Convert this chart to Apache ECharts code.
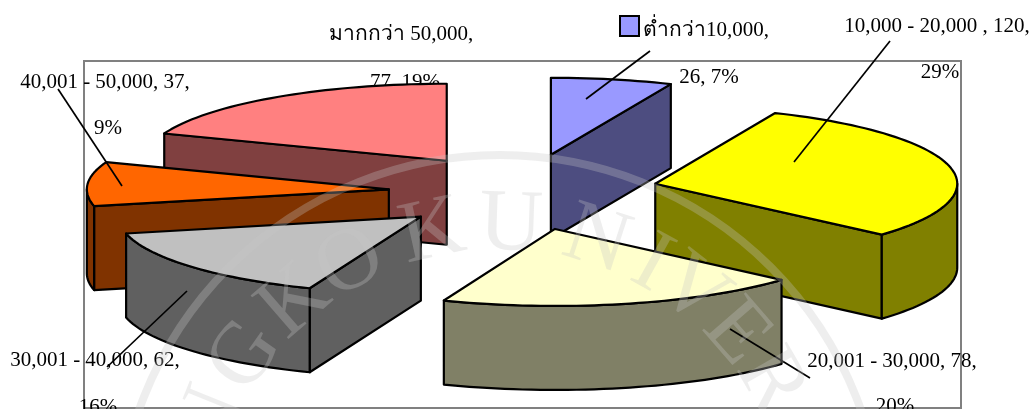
<!DOCTYPE html>
<html><head><meta charset="utf-8">
<style>html,body{margin:0;padding:0;background:#fff}#c{width:1034px;height:409px}</style>
<script src="https://cdn.jsdelivr.net/npm/echarts@6/dist/echarts.min.js"></script>
</head><body><div id="c"></div>
<script>
// data (clockwise from 12 o'clock)
const categories = ['ต่ำกว่า10,000', '10,000 - 20,000', '20,001 - 30,000', '30,001 - 40,000', '40,001 - 50,000', 'มากกว่า 50,000'];
const values = [26, 120, 78, 62, 37, 77];
const topColors = ['#9999FF', '#FFFF00', '#FFFFCC', '#C0C0C0', '#FF6600', '#FF8080'];
const wallColors = ['#4D4D80', '#808000', '#808066', '#606060', '#803300', '#804040'];
const drawOrder = [5, 0, 4, 1, 3, 2];
// label text
const labelLines = [
  ['ต่ำกว่า10,000,', '26, 7%'],
  ['10,000 - 20,000 , 120,', '29%'],
  ['20,001 - 30,000, 78,', '20%'],
  ['30,001 - 40,000, 62,', '16%'],
  ['40,001 - 50,000, 37,', '9%'],
  ['มากกว่า 50,000,', '77, 19%']
];
const watermarkLetters = ['N', 'G', 'K', 'O', 'K', 'U', 'N', 'I', 'V', 'E', 'R'];

// layout
const PIE = { cx: 523.5, cy: 192, rx: 302, ry: 77, depth: 84, ex: 135, ey: 38 };
const labelPos = [
  [[706, 30], [709, 77]],
  [[937, 26], [940, 72]],
  [[892, 361], [895, 406]],
  [[95, 360], [98, 407]],
  [[105, 82], [108, 128]],
  [[401, 34], [405, 82]]
];
const leaders = [
  [650, 51, 586, 99],
  [890, 41, 794, 162],
  [810, 378, 730, 329],
  [107, 367, 187, 291],
  [58, 89, 122, 186]
];
const WM = { cx: 500, cy: 538, ring: 383, r: 312 };
const wmAngles = [-68, -54.5, -41, -28.6, -12.5, 2, 18, 29, 38, 49, 60];

const total = values.reduce((a, b) => a + b, 0);
const starts = [];
values.reduce((acc, v, i) => { starts[i] = acc; return acc + v; }, 0);
const rad = v => v / total * Math.PI * 2;

function renderSlice(params, api) {
  const i = api.value(0), v = api.value(1);
  const a0 = rad(starts[i]), a1 = rad(starts[i] + v), mid = (a0 + a1) / 2;
  const ax = PIE.cx + PIE.ex * Math.sin(mid), ay = PIE.cy - PIE.ey * Math.cos(mid);
  const pt = (a, dz) => [ax + PIE.rx * Math.sin(a), ay - PIE.ry * Math.cos(a) + (dz || 0)];
  const arc = (s, e, dz) => {
    const n = Math.max(2, Math.ceil((e - s) / 0.03)), out = [];
    for (let k = 0; k <= n; k++) out.push(pt(s + (e - s) * k / n, dz));
    return out;
  };
  const base = { stroke: '#000', lineWidth: 2.2, lineJoin: 'round' };
  const kids = [];
  const poly = (points, fill) => kids.push({ type: 'polygon', shape: { points }, style: Object.assign({ fill }, base), silent: true });
  const wall = a => poly([[ax, ay], pt(a), pt(a, PIE.depth), [ax, ay + PIE.depth]], wallColors[i]);
  if (Math.sin(a0) < -1e-6) wall(a0);
  if (Math.sin(a1) > 1e-6) wall(a1);
  const rs = Math.max(a0, Math.PI / 2), re = Math.min(a1, Math.PI * 1.5);
  if (re > rs) poly(arc(rs, re).concat(arc(rs, re, PIE.depth).reverse()), wallColors[i]);
  poly([[ax, ay]].concat(arc(a0, a1)), topColors[i]);
  return { type: 'group', children: kids };
}

const graphic = [];
graphic.push({ type: 'rect', z: 0, silent: true, shape: { x: 84, y: 61, width: 877, height: 347 }, style: { fill: 'none', stroke: '#808080', lineWidth: 2 } });
labelLines.forEach((lines, i) => lines.forEach((t, j) => {
  graphic.push({ type: 'text', z: i === 5 && j === 1 ? 1 : 5, silent: true, x: labelPos[i][j][0], y: labelPos[i][j][1],
    style: { text: t, fill: '#000', align: 'center', verticalAlign: 'middle', font: '21px "Liberation Serif", "Noto Sans CJK SC", serif' } });
}));
leaders.forEach(l => graphic.push({ type: 'line', z: 6, silent: true, shape: { x1: l[0], y1: l[1], x2: l[2], y2: l[3] }, style: { stroke: '#000', lineWidth: 1.7 } }));
graphic.push({ type: 'rect', z: 6, silent: true, shape: { x: 620, y: 16, width: 19, height: 20 }, style: { fill: topColors[0], stroke: '#000', lineWidth: 2 } });
graphic.push({ type: 'circle', z: 10, silent: true, shape: { cx: WM.cx, cy: WM.cy, r: WM.ring }, style: { fill: 'none', stroke: 'rgba(200,200,200,0.3)', lineWidth: 8 } });
watermarkLetters.forEach((ch, i) => {
  const a = wmAngles[i] * Math.PI / 180;
  graphic.push({ type: 'text', z: 10, silent: true,
    x: WM.cx + WM.r * Math.sin(a), y: WM.cy - WM.r * Math.cos(a), rotation: -a,
    style: { text: ch, fill: 'rgba(200,200,200,0.3)', align: 'center', verticalAlign: 'middle', font: '88px "Liberation Serif", serif' } });
});

const chart = echarts.init(document.getElementById('c'), null, { renderer: 'canvas' });
chart.setOption({
  animation: false,
  backgroundColor: '#fff',
  series: [{
    type: 'custom', coordinateSystem: 'none', silent: true, z: 2,
    encode: { tooltip: 1 },
    renderItem: renderSlice,
    data: drawOrder.map(i => ({ name: categories[i], value: [i, values[i]] }))
  }],
  graphic: { elements: graphic }
});
</script></body></html>
